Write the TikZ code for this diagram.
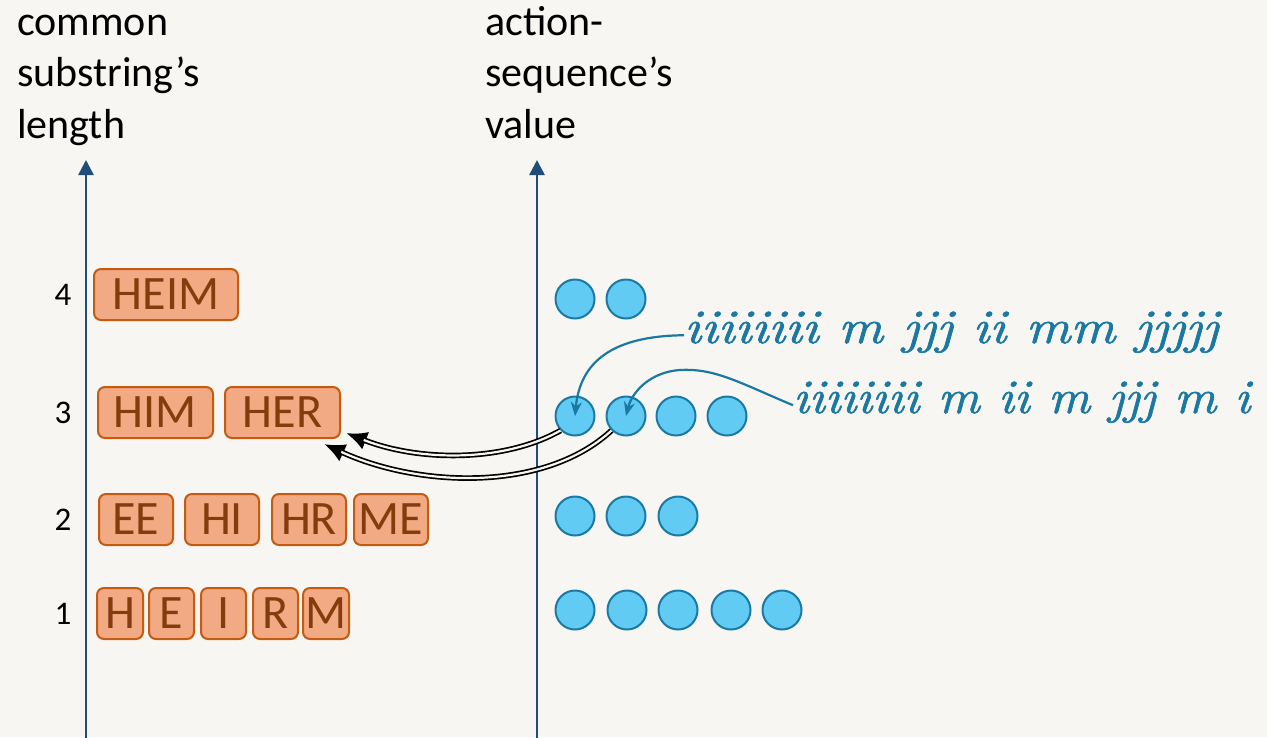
\documentclass[tikz,border=0pt]{standalone}
\usepackage{fontspec}
\setsansfont{Carlito}
\newfontfamily\seqfont{lmroman10-italic}[Extension=.otf, FakeBold=1.2]
\usetikzlibrary{arrows.meta,calc}
\definecolor{bg}{HTML}{F7F6F2}
\definecolor{axisblue}{HTML}{1F4E79}
\definecolor{tilefill}{HTML}{F2AA84}
\definecolor{tileedge}{HTML}{C55A11}
\definecolor{tiletext}{HTML}{843C0C}
\definecolor{dotfill}{HTML}{61CBF3}
\definecolor{dotedge}{HTML}{1A7AA3}
\definecolor{scriptblue}{HTML}{1A78A3}

\begin{document}
\begin{tikzpicture}[x=1pt,y=-1pt,
  title/.style={anchor=base west, align=left, inner sep=0,
    font=\sffamily\fontsize{42}{51.5}\selectfont},
  axis/.style={draw=axisblue, line width=2.6pt, -{Triangle[length=15pt,width=15pt]}},
  level/.style={font=\sffamily\fontsize{33}{36}\selectfont, text=black, inner sep=0},
  tile/.style={draw=tileedge, fill=tilefill, line width=2pt, rounded corners=7pt,
    minimum height=51pt, inner sep=0, text=tiletext,
    font=\sffamily\fontsize{48}{52}\selectfont},
  dot/.style={circle, draw=dotedge, fill=dotfill, line width=2pt,
    minimum size=39pt, inner sep=0},
  seq/.style={anchor=base west, inner sep=0, text=scriptblue,
    font=\seqfont\fontsize{48}{50}\selectfont},
  pointer/.style={draw=scriptblue, line width=2.2pt, -{Stealth[length=14pt,width=11pt]}},
  link/.style={draw=black, line width=5.6pt, -{Latex[length=21pt,width=19pt]},
    postaction={draw=bg, line width=2.2pt, -, shorten >=19pt}}
]
\fill[bg] (0,0) rectangle (1267,737);
\useasboundingbox (0,0) rectangle (1267,737);

% axis titles (anchored at the baseline of their last line)
\node[title] (tleft) at (17,138) {common\\substring’s\\length};
\node[title] (tright) at (485,138) {action-\\sequence’s\\value};

% axes
\coordinate (a1b) at (86,745);
\coordinate (a1t) at (86,160);
\coordinate (a2b) at (537,745);
\coordinate (a2t) at (537,160);
\draw[axis] (a1b) -- (a1t);
\draw[axis] (a2b) -- (a2t);

% level numbers
\node[level] (n4) at (63,295) {4};
\node[level] (n3) at (63,413) {3};
\node[level] (n2) at (63,520) {2};
\node[level] (n1) at (63,614) {1};

% common substrings
\node[tile, minimum width=144pt] (heim) at (166,294.5) {HEIM};
\node[tile, minimum width=115pt] (him) at (155.5,412.5) {HIM};
\node[tile, minimum width=115pt] (her) at (282.5,412.5) {HER};
\node[tile, minimum width=74pt] (ee) at (136,519.5) {EE};
\node[tile, minimum width=74pt] (hi) at (222,519.5) {HI};
\node[tile, minimum width=74pt] (hr) at (309,519.5) {HR};
\node[tile, minimum width=74pt] (me) at (391,519.5) {ME};
\node[tile, minimum width=46pt] (h) at (120,613.5) {H};
\node[tile, minimum width=45pt] (e) at (171.5,613.5) {E};
\node[tile, minimum width=45pt] (i) at (223.5,613.5) {I};
\node[tile, minimum width=45pt] (r) at (275.5,613.5) {R};
\node[tile, minimum width=46pt] (m) at (326,613.5) {M};

% action sequences
\node[dot] (c41) at (575,299) {};
\node[dot] (c42) at (626,299) {};
\node[dot] (c31) at (575,416) {};
\node[dot] (c32) at (626,416) {};
\node[dot] (c33) at (676,416) {};
\node[dot] (c34) at (727,416) {};
\node[dot] (c21) at (575,516) {};
\node[dot] (c22) at (626,516) {};
\node[dot] (c23) at (678,516) {};
\node[dot] (c11) at (575,610) {};
\node[dot] (c12) at (627,610) {};
\node[dot] (c13) at (678,610) {};
\node[dot] (c14) at (731,610) {};
\node[dot] (c15) at (782,610) {};

% example sequences
\node[seq] (s1) at (684,343) {\scalebox{1.14}[1]{iiiiiiii m jjj ii mm jjjjj}};
\node[seq] (s2) at (793,413) {\scalebox{1.07}[1]{iiiiiiii m ii m jjj m i}};

\draw[pointer] ([yshift=-3pt]s1.west) .. controls (612,336) and (580,362) .. (c31.center);
\draw[pointer] ([yshift=-3pt]s2.west) .. controls (740,383) and (715,368) .. (680,370)
  .. controls (650,372) and (632,392) .. (c32.center);

% sequences mapped to their substring
\draw[link] (c31.225) .. controls (505,462) and (420,462) .. ([xshift=5pt,yshift=6pt]her.south east);
\draw[link] (c32.225) .. controls (545,492) and (420,488) .. ([xshift=-17pt,yshift=-5pt]her.south east);
\end{tikzpicture}
\end{document}
